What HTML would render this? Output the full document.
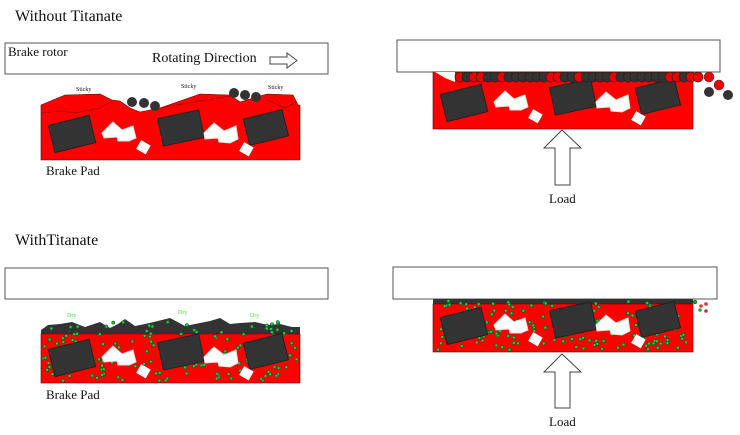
<!DOCTYPE html>
<html><head><meta charset="utf-8"><style>
html,body{margin:0;padding:0;background:#fff;}
svg{display:block;}
.t{font-family:"Liberation Serif",serif;fill:#111;}
</style></head><body>
<svg id="s" width="740" height="435" viewBox="0 0 740 435" xmlns="http://www.w3.org/2000/svg">
<defs>
<g id="inc">
  <rect x="51" y="120" width="42" height="28" fill="#333" stroke="#222" transform="rotate(-14 72 134)"/>
  <rect x="160" y="114" width="42" height="28" fill="#333" stroke="#222" transform="rotate(-12 181 128)"/>
  <rect x="246" y="114" width="40" height="27" fill="#333" stroke="#222" transform="rotate(-14 266 128)"/>
  <polygon points="102,133 113,122 122,130 133,126 136,138 129,141 118,141 117,137 104,138" fill="#fff" stroke="#ddd"/>
  <polygon points="204,133 214,123 224,131 236,126 238,139 230,143 219,142 218,138 205,139" fill="#fff" stroke="#ddd"/>
  <rect x="138" y="142" width="11" height="10" fill="#fff" transform="rotate(30 143 147)"/>
  <rect x="241" y="144" width="11" height="10" fill="#fff" transform="rotate(30 246 149)"/>
</g>
</defs>

<text class="t" x="15" y="21" font-size="16">Without Titanate</text>
<rect x="5" y="43" width="323" height="31" fill="#fff" stroke="#555"/>
<text class="t" x="8" y="56" font-size="13">Brake rotor</text>
<text class="t" x="152" y="62" font-size="14">Rotating Direction</text>
<polygon points="270,57 287,57 287,53 297,60.5 287,68 287,64 270,64" fill="#fff" stroke="#444"/>

<polygon points="41,105 65,95 100,94 112,100 120,101 130,108 140,112 160,108 200,94 230,95 240,102 267,94 293,95 298,105 300,105 300,160 41,160" fill="#f00" stroke="#600" stroke-width="0.6"/>
<polyline points="41,113 60,111 75,113 100,108 112,101" fill="none" stroke="#700" stroke-width="0.6"/>
<polyline points="160,108 200,101 230,96" fill="none" stroke="#700" stroke-width="0.6"/>
<polyline points="267,100 285,108 296,102" fill="none" stroke="#700" stroke-width="0.6"/>
<use href="#inc"/>
<g fill="#333"><circle cx="132" cy="102" r="5"/><circle cx="144" cy="103" r="5"/><circle cx="155" cy="106" r="5"/>
<circle cx="234" cy="93" r="5"/><circle cx="245" cy="95" r="5"/><circle cx="256" cy="97" r="5"/></g>
<g class="t" font-size="6"><text x="76" y="91">Sticky</text><text x="181" y="88">Sticky</text><text x="268" y="89">Sticky</text></g>
<text class="t" x="46" y="175" font-size="13">Brake Pad</text>

<!-- top right -->
<rect x="397" y="40" width="323" height="32" fill="#fff" stroke="#555"/>
<rect x="433" y="72" width="260" height="57" fill="#f00" stroke="#600" stroke-width="0.6"/>
<polygon points="435,72 455,72 455,82 445,78" fill="#fff"/>
<use href="#inc" transform="translate(392,-31)"/>
<g id="row"></g>
<g><circle cx="709" cy="77" r="5" fill="#e00" stroke="#333" stroke-width="0.5"/><circle cx="719" cy="85" r="5" fill="#e00" stroke="#333" stroke-width="0.5"/><circle cx="709" cy="92" r="5" fill="#333"/><circle cx="728" cy="95" r="5" fill="#333"/></g>
<polygon points="562,130 581,148 570,148 570,185 555,185 555,148 544,148" fill="#fff" stroke="#444"/>
<text class="t" x="549" y="203" font-size="13">Load</text>

<!-- bottom left -->
<text class="t" x="15" y="245" font-size="16">WithTitanate</text>
<rect x="5" y="268" width="323" height="31" fill="#fff" stroke="#555"/>
<polygon points="41,330 48,325 60,324 72,322 85,327 100,322 110,328 118,324 125,319 135,326 145,324 162,320 170,318 185,326 205,322 210,321 220,318 230,324 240,323 255,322 268,325 280,324 292,327 300,327 300,336 41,336" fill="#333"/>
<rect x="41" y="334" width="259" height="49" fill="#f00" stroke="#600" stroke-width="0.6"/>
<g id="g1"></g>
<use href="#inc" transform="translate(0,224)"/>
<g class="t" font-size="6" style="fill:#4e4"><text x="67" y="317">Dry</text><text x="178" y="314">Dry</text><text x="250" y="317">Dry</text></g>
<text class="t" x="46" y="399" font-size="13">Brake Pad</text>

<!-- bottom right -->
<rect x="393" y="267" width="324" height="32" fill="#fff" stroke="#555"/>
<rect x="433" y="299" width="260" height="5" fill="#333"/>
<rect x="433" y="304" width="260" height="48" fill="#f00" stroke="#600" stroke-width="0.6"/>
<g id="g2"></g>
<use href="#inc" transform="translate(392,192)"/>
<g><circle cx="695" cy="302" r="1.8" fill="#2a2" stroke="#050" stroke-width="0.6"/><circle cx="701" cy="306" r="1.8" fill="#e33"/><circle cx="706" cy="304" r="1.8" fill="#c33"/><circle cx="700" cy="310" r="1.8" fill="#2a2"/><circle cx="706" cy="311" r="1.8" fill="#c33"/></g>
<polygon points="562,354 581,372 570,372 570,408 555,408 555,372 544,372" fill="#fff" stroke="#444"/>
<text class="t" x="549" y="426" font-size="13">Load</text>
</svg>
<script>
var NS="http://www.w3.org/2000/svg";
var seed=7;function r(){seed=(seed*16807)%2147483647;return seed/2147483647;}
function c(g,x,y,rad,fill,st){var e=document.createElementNS(NS,"circle");e.setAttribute("cx",x);e.setAttribute("cy",y);e.setAttribute("r",rad);e.setAttribute("fill",fill);if(st){e.setAttribute("stroke",st);e.setAttribute("stroke-width","0.7");}document.getElementById(g).appendChild(e);}
for(var x=460;x<=700;x+=7){c("row",x,77,5,r()<0.4?"#e00":"#333","#222");}
for(var i=0;i<150;i++){c("g1",43+r()*255,322+r()*59,1.5,"#3c3","#063");}
for(var i=0;i<150;i++){c("g2",435+r()*256,301+r()*49,1.5,"#3c3","#063");}
</script>
</body></html>
